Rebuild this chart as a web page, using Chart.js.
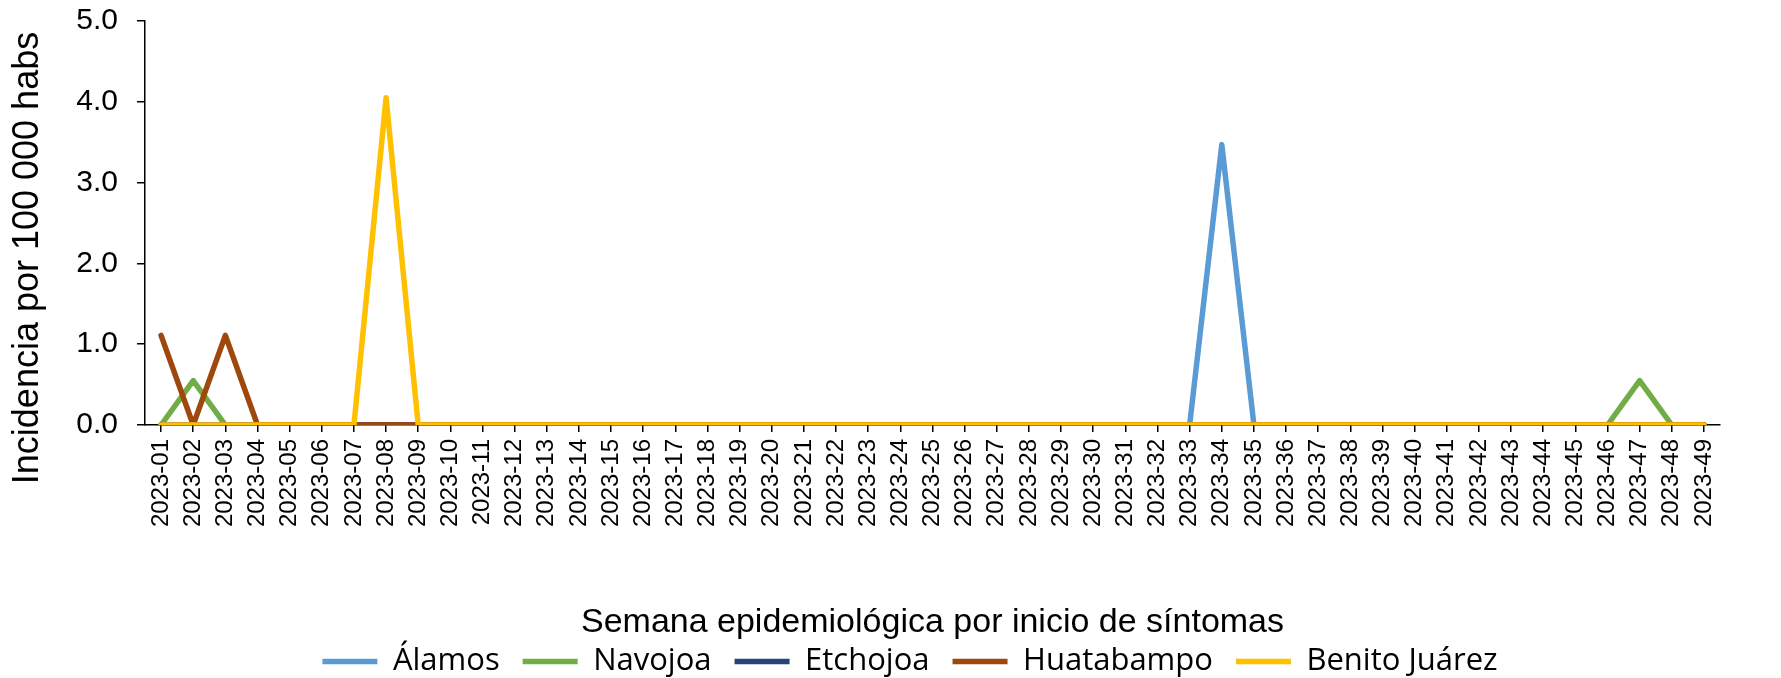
<!DOCTYPE html>
<html>
<head>
<meta charset="utf-8">
<script src="https://cdn.jsdelivr.net/npm/chart.js@4.4.1/dist/chart.umd.min.js"></script>
<style>
    body { margin: 0; background: #fff; }
    #wrap { width: 1781px; height: 678px; }
</style>
</head>
<body>
<div id="wrap"><canvas id="incidence-chart"></canvas></div>
<script>
// weeks 2023-01 .. 2023-49
const weeks = [];
for (let w = 1; w <= 49; w++) {
    weeks.push('2023-' + String(w).padStart(2, '0'));
}

const alamos       = [0,0,0,0,0,0,0,0,0,0,0,0,0,0,0,0,0,0,0,0,0,0,0,0,0,0,0,0,0,0,0,0,0,3.47,0,0,0,0,0,0,0,0,0,0,0,0,0,0,0];
const navojoa      = [0,0.55,0,0,0,0,0,0,0,0,0,0,0,0,0,0,0,0,0,0,0,0,0,0,0,0,0,0,0,0,0,0,0,0,0,0,0,0,0,0,0,0,0,0,0,0,0.55,0,0];
const etchojoa     = [0,0,0,0,0,0,0,0,0,0,0,0,0,0,0,0,0,0,0,0,0,0,0,0,0,0,0,0,0,0,0,0,0,0,0,0,0,0,0,0,0,0,0,0,0,0,0,0,0];
const huatabampo   = [1.11,0,1.11,0,0,0,0,0,0,0,0,0,0,0,0,0,0,0,0,0,0,0,0,0,0,0,0,0,0,0,0,0,0,0,0,0,0,0,0,0,0,0,0,0,0,0,0,0,0];
const benitoJuarez = [0,0,0,0,0,0,0,4.05,0,0,0,0,0,0,0,0,0,0,0,0,0,0,0,0,0,0,0,0,0,0,0,0,0,0,0,0,0,0,0,0,0,0,0,0,0,0,0,0,0];

const seriesNames = ['Álamos', 'Navojoa', 'Etchojoa', 'Huatabampo', 'Benito Juárez'];
const seriesColors = ['#5B9BD5', '#70AD47', '#264478', '#9E480E', '#FFC000'];
const seriesValues = [alamos, navojoa, etchojoa, huatabampo, benitoJuarez];

const yTicks = [0, 1, 2, 3, 4, 5];
const yTitle = 'Incidencia por 100 000 habs';
const xTitle = 'Semana epidemiológica por inicio de síntomas';

Chart.defaults.font.family = '"Liberation Sans", Arial, sans-serif';
Chart.defaults.color = '#000';

// y title drawn by hand so it sits where the original has it,
// and the legend nudged right (the original is not centred on the canvas)
const layoutTweaks = {
    id: 'layoutTweaks',
    afterLayout(chart) {
        if (chart.legend) {
            chart.legend.left += 50;
            chart.legend.right += 50;
        }
    },
    afterDraw(chart) {
        const ctx = chart.ctx;
        ctx.save();
        ctx.translate(38, 258);
        ctx.rotate(-Math.PI / 2);
        ctx.font = '36px "Liberation Sans", Arial, sans-serif';
        ctx.fillStyle = '#000';
        ctx.textAlign = 'center';
        ctx.textBaseline = 'alphabetic';
        ctx.fillText(yTitle, 0, 0);
        ctx.restore();
    }
};

const datasets = seriesNames.map((name, i) => ({
    label: name,
    data: seriesValues[i],
    borderColor: seriesColors[i],
    backgroundColor: seriesColors[i],
    borderWidth: 5.5,
    borderCapStyle: 'round',
    borderJoinStyle: 'round',
    pointRadius: 0,
    pointHoverRadius: 0,
    tension: 0,
    fill: false,
    // later series on top, like the original
    order: seriesNames.length - 1 - i
}));

new Chart(document.getElementById('incidence-chart'), {
    type: 'line',
    data: {
        labels: weeks,
        datasets: datasets
    },
    options: {
        responsive: true,
        maintainAspectRatio: false,
        animation: false,
        layout: {
            padding: { top: 21, right: 61, left: 0, bottom: 0 }
        },
        plugins: {
            legend: {
                position: 'bottom',
                maxHeight: 55,
                labels: {
                    usePointStyle: true,
                    pointStyle: 'line',
                    pointStyleWidth: 55,
                    padding: 23,
                    color: '#000',
                    font: { family: '"Open Sans", sans-serif', size: 31 },
                    sort: (a, b) => a.datasetIndex - b.datasetIndex
                }
            },
            tooltip: { enabled: false }
        },
        scales: {
            x: {
                offset: true,
                afterFit: (scale) => { scale.height = 198; },
                grid: {
                    display: true,
                    drawOnChartArea: false,
                    drawTicks: true,
                    tickLength: 7,
                    color: '#000',
                    lineWidth: 1.5
                },
                border: { color: '#000', width: 1.5 },
                ticks: {
                    autoSkip: false,
                    minRotation: 90,
                    maxRotation: 90,
                    padding: 7,
                    color: '#000',
                    font: { size: 24 }
                },
                title: {
                    display: true,
                    text: xTitle,
                    color: '#000',
                    font: { size: 34 },
                    padding: { top: 0, bottom: -20 }
                }
            },
            y: {
                min: 0,
                max: 5,
                afterFit: (scale) => {
                    scale.width = 145;
                    scale.paddingTop = 0;
                    scale.paddingBottom = 0;
                },
                afterBuildTicks: (scale) => {
                    scale.ticks = yTicks.map(v => ({ value: v }));
                },
                grid: {
                    display: true,
                    drawOnChartArea: false,
                    drawTicks: true,
                    tickLength: 8,
                    color: '#000',
                    lineWidth: 1.5
                },
                border: { color: '#000', width: 1.5 },
                ticks: {
                    padding: 19,
                    color: '#000',
                    font: { size: 30 },
                    callback: (value) => Number(value).toFixed(1)
                }
            }
        }
    },
    plugins: [layoutTweaks]
});
</script>
</body>
</html>
